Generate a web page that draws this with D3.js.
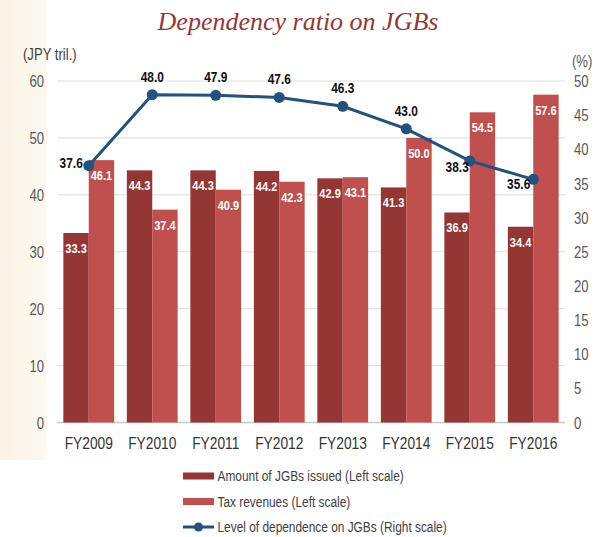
<!DOCTYPE html>
<html>
<head>
<meta charset="utf-8">
<script src="https://cdn.jsdelivr.net/npm/d3@7"></script>
<style>
	body { margin: 0; background: #fff; }
	text { font-family: "Liberation Sans", Arial, sans-serif; }
</style>
</head>
<body>
<script>
// chart data
var years = ['FY2009', 'FY2010', 'FY2011', 'FY2012', 'FY2013', 'FY2014', 'FY2015', 'FY2016'];
var jgbIssued = [33.3, 44.3, 44.3, 44.2, 42.9, 41.3, 36.9, 34.4];
var taxRevenues = [46.1, 37.4, 40.9, 42.3, 43.1, 50.0, 54.5, 57.6];
var dependence = [37.6, 48.0, 47.9, 47.6, 46.3, 43.0, 38.3, 35.6];
var leftTicks = [0, 10, 20, 30, 40, 50, 60];
var rightTicks = [0, 5, 10, 15, 20, 25, 30, 35, 40, 45, 50];
var legendLabels = ['Amount of JGBs issued (Left scale)', 'Tax revenues (Left scale)', 'Level of dependence on JGBs (Right scale)'];

var width = 598,
	height = 537;

var darkRed = '#943634',
	lightRed = '#c0504d',
	blue = '#22527e';

// no narrow font installed, so squeeze the text horizontally
function narrow(sel, k) {
	k = k || 0.82;
	sel.each(function() {
		var t = d3.select(this),
			tx = +t.attr('x') || 0,
			ty = +t.attr('y') || 0;
		t.attr('x', null).attr('y', null)
			.attr('transform', 'translate(' + tx + ',' + ty + ') scale(' + k + ',1)');
	});
}

var svg = d3.select('body')
	.append('svg')
	.attr('width', width)
	.attr('height', height);

// beige strip on the left
var grad = svg.append('defs').append('linearGradient')
	.attr('id', 'strip')
	.attr('x1', 0).attr('x2', 1);
grad.append('stop').attr('offset', 0).attr('stop-color', '#fbf3e4');
grad.append('stop').attr('offset', 1).attr('stop-color', '#fdf9f1');
svg.append('rect')
	.attr('x', 0).attr('y', 0)
	.attr('width', 47).attr('height', 460)
	.attr('fill', 'url(#strip)');

// scales
var x = d3.scaleBand()
	.domain(years)
	.range([57, 565])
	.paddingInner(0.2)
	.paddingOuter(0.1);

var x1 = d3.scaleBand()
	.domain([0, 1])
	.range([0, x.bandwidth()]);

var yLeft = d3.scaleLinear().domain([0, 60]).range([422.5, 81]);
var yRight = d3.scaleLinear().domain([0, 50]).range([422.5, 81]);

// title
svg.append('text')
	.attr('x', 298)
	.attr('y', 30)
	.attr('text-anchor', 'middle')
	.style('font-family', '"Liberation Serif", "DejaVu Serif", serif')
	.style('font-style', 'italic')
	.style('font-size', '26px')
	.attr('fill', '#953735')
	.text('Dependency ratio on JGBs');

// gridlines
svg.append('g')
	.selectAll('line')
	.data(leftTicks)
	.enter().append('line')
	.attr('x1', 57).attr('x2', 565)
	.attr('y1', function(d) { return yLeft(d); })
	.attr('y2', function(d) { return yLeft(d); })
	.attr('stroke', function(d) { return d === 0 ? '#c8c8c8' : '#dedede'; })
	.attr('stroke-width', function(d) { return d === 0 ? 1.5 : 1; });

// left axis
var leftAxis = svg.append('g')
	.attr('transform', 'translate(44,0)')
	.call(d3.axisLeft(yLeft).tickValues(leftTicks).tickSize(0).tickPadding(0));
leftAxis.select('.domain').remove();
leftAxis.selectAll('text')
	.style('font-size', '16px')
	.attr('fill', '#595959')
	.attr('dy', '0.35em')
	.call(narrow);

// right axis
var rightAxis = svg.append('g')
	.attr('transform', 'translate(574,0)')
	.call(d3.axisRight(yRight).tickValues(rightTicks).tickSize(0).tickPadding(0));
rightAxis.select('.domain').remove();
rightAxis.selectAll('text')
	.style('font-size', '16px')
	.attr('fill', '#595959')
	.attr('dy', '0.35em')
	.call(narrow);

// axis units
svg.append('text')
	.attr('x', 23).attr('y', 60)
	.style('font-size', '16px')
	.attr('fill', '#404040')
	.text('(JPY tril.)')
	.call(narrow);
svg.append('text')
	.attr('x', 572).attr('y', 67)
	.style('font-size', '16px')
	.attr('fill', '#595959')
	.text('(%)')
	.call(narrow);

// category labels
svg.append('g')
	.selectAll('text')
	.data(years)
	.enter().append('text')
	.attr('x', function(d) { return x(d) + x.bandwidth() / 2; })
	.attr('y', 449)
	.attr('text-anchor', 'middle')
	.style('font-size', '16px')
	.attr('fill', '#333')
	.text(function(d) { return d; })
	.call(narrow, 0.86);

// bars
var series = [jgbIssued, taxRevenues];
var colors = [darkRed, lightRed];

series.forEach(function(values, s) {
	var g = svg.append('g');
	g.selectAll('rect')
		.data(values)
		.enter().append('rect')
		.attr('x', function(d, i) { return x(years[i]) + x1(s); })
		.attr('y', function(d) { return yLeft(d); })
		.attr('width', x1.bandwidth())
		.attr('height', function(d) { return yLeft(0) - yLeft(d); })
		.attr('fill', colors[s]);
	g.selectAll('text')
		.data(values)
		.enter().append('text')
		.attr('x', function(d, i) { return x(years[i]) + x1(s) + x1.bandwidth() / 2; })
		.attr('y', function(d) { return yLeft(d) + 20; })
		.attr('text-anchor', 'middle')
		.style('font-size', '13.5px')
		.style('font-weight', 'bold')
		.attr('fill', '#fff')
		.text(function(d) { return d.toFixed(1); })
		.call(narrow);
});

// dependence line
var cx = function(d, i) { return x(years[i]) + x.bandwidth() / 2; };

svg.append('path')
	.datum(dependence)
	.attr('fill', 'none')
	.attr('stroke', blue)
	.attr('stroke-width', 3)
	.attr('d', d3.line().x(cx).y(function(d) { return yRight(d); }));

svg.append('g')
	.selectAll('circle')
	.data(dependence)
	.enter().append('circle')
	.attr('cx', cx)
	.attr('cy', function(d) { return yRight(d); })
	.attr('r', 5.5)
	.attr('fill', blue);

// line labels: first one left, last two below-left, rest above
svg.append('g')
	.selectAll('text')
	.data(dependence)
	.enter().append('text')
	.attr('x', function(d, i) {
		if (i === 0) return cx(d, i) - 6;
		if (i === 6) return cx(d, i) - 1;
		if (i === 7) return cx(d, i) - 3;
		return cx(d, i);
	})
	.attr('y', function(d, i) {
		if (i === 0) return yRight(d) + 2;
		if (i === 6) return yRight(d) + 11;
		if (i === 7) return yRight(d) + 10;
		return yRight(d) - 13;
	})
	.attr('text-anchor', function(d, i) { return i === 0 || i >= 6 ? 'end' : 'middle'; })
	.style('font-size', '14.5px')
	.style('font-weight', 'bold')
	.attr('fill', '#111')
	.text(function(d) { return d.toFixed(1); })
	.call(narrow);

// legend
var legend = svg.append('g')
	.selectAll('g')
	.data(legendLabels)
	.enter().append('g')
	.attr('transform', function(d, i) { return 'translate(183,' + (476 + i * 25.5) + ')'; });

legend.each(function(d, i) {
	var g = d3.select(this);
	if (i < 2) {
		g.append('rect')
			.attr('x', 0).attr('y', -3.5)
			.attr('width', 31).attr('height', 7)
			.attr('fill', colors[i]);
	} else {
		g.append('line')
			.attr('x1', 0).attr('x2', 31)
			.attr('stroke', blue)
			.attr('stroke-width', 3);
		g.append('circle')
			.attr('cx', 15.5).attr('r', 4.5)
			.attr('fill', blue);
	}
	g.append('text')
		.attr('x', 34.5)
		.attr('dy', '0.35em')
		.style('font-size', '14.5px')
		.attr('fill', '#404040')
		.text(d)
		.call(narrow);
});
</script>
</body>
</html>
